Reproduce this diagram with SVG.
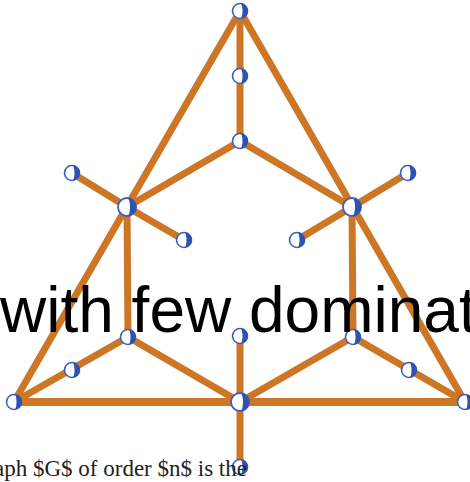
<svg xmlns="http://www.w3.org/2000/svg" xmlns:xlink="http://www.w3.org/1999/xlink" width="470" height="482" viewBox="0 0 470 482">
<style>
.e{stroke:#cd7626;stroke-width:7;stroke-linecap:round;fill:none}
.big{font-family:"Liberation Sans",Arial,sans-serif;font-size:64px;fill:#000}
.cap{font-family:"Liberation Serif","Times New Roman",serif;font-size:23px;fill:#222}
</style>
<defs>
<g id="n">
<circle r="7.5" fill="#fff" stroke="#3a5fc0" stroke-width="1.6"/>
<path d="M0.5,-7.5 A7.5,7.5 0 0 1 0.5,7.5 A2,7.5 0 0 0 0.5,-7.5Z" fill="#2c52b4"/>
</g>
<g id="h">
<circle r="9" fill="#fff" stroke="#3a5fc0" stroke-width="1.8"/>
<path d="M0.5,-9 A9,9 0 0 1 0.5,9 A2.5,9 0 0 0 0.5,-9Z" fill="#2c52b4"/>
</g>
</defs>
<g id="connectors">
<line class="e" x1="240" y1="11" x2="14" y2="402"/>
<line class="e" x1="240" y1="11" x2="465" y2="402"/>
<line class="e" x1="240" y1="11" x2="240" y2="141"/>
<line class="e" x1="240" y1="141" x2="127" y2="207"/>
<line class="e" x1="240" y1="141" x2="352" y2="207"/>
<line class="e" x1="127" y1="207" x2="72" y2="173"/>
<line class="e" x1="127" y1="207" x2="184" y2="240"/>
<line class="e" x1="352" y1="207" x2="408" y2="173"/>
<line class="e" x1="352" y1="207" x2="297" y2="240"/>
<line class="e" x1="127" y1="207" x2="128" y2="337"/>
<line class="e" x1="352" y1="207" x2="353" y2="337"/>
<line class="e" x1="128" y1="337" x2="240" y2="402"/>
<line class="e" x1="353" y1="337" x2="240" y2="402"/>
<line class="e" x1="128" y1="337" x2="14" y2="402"/>
<line class="e" x1="353" y1="337" x2="465" y2="402"/>
<line class="e" x1="14" y1="402" x2="465" y2="402" style="stroke-width:8"/>
<line class="e" x1="240" y1="336" x2="240" y2="467"/>
</g>
<g id="n1"><use xlink:href="#n" x="240" y="11"/></g>
<g id="n2"><use xlink:href="#n" x="240" y="76"/></g>
<g id="n3"><use xlink:href="#n" x="240" y="141"/></g>
<g id="n4"><use xlink:href="#h" x="127" y="207"/></g>
<g id="n5"><use xlink:href="#h" x="352" y="207"/></g>
<g id="n6"><use xlink:href="#n" x="72" y="173"/></g>
<g id="n7"><use xlink:href="#n" x="184" y="240"/></g>
<g id="n8"><use xlink:href="#n" x="408" y="173"/></g>
<g id="n9"><use xlink:href="#n" x="297" y="240"/></g>
<g id="n10"><use xlink:href="#n" x="128" y="337"/></g>
<g id="n11"><use xlink:href="#n" x="72" y="370"/></g>
<g id="n12"><use xlink:href="#n" x="14" y="402"/></g>
<g id="n13"><use xlink:href="#h" x="240" y="402"/></g>
<g id="n14"><use xlink:href="#n" x="240" y="336"/></g>
<g id="n15"><use xlink:href="#n" x="240" y="467"/></g>
<g id="n16"><use xlink:href="#n" x="353" y="337"/></g>
<g id="n17"><use xlink:href="#n" x="409" y="370"/></g>
<g id="n18"><use xlink:href="#n" x="465" y="402"/></g>
<text class="big" x="0" y="332">with few dominat</text>
<text class="cap" x="-6" y="476">aph $G$ of order $n$ is the</text>
</svg>
